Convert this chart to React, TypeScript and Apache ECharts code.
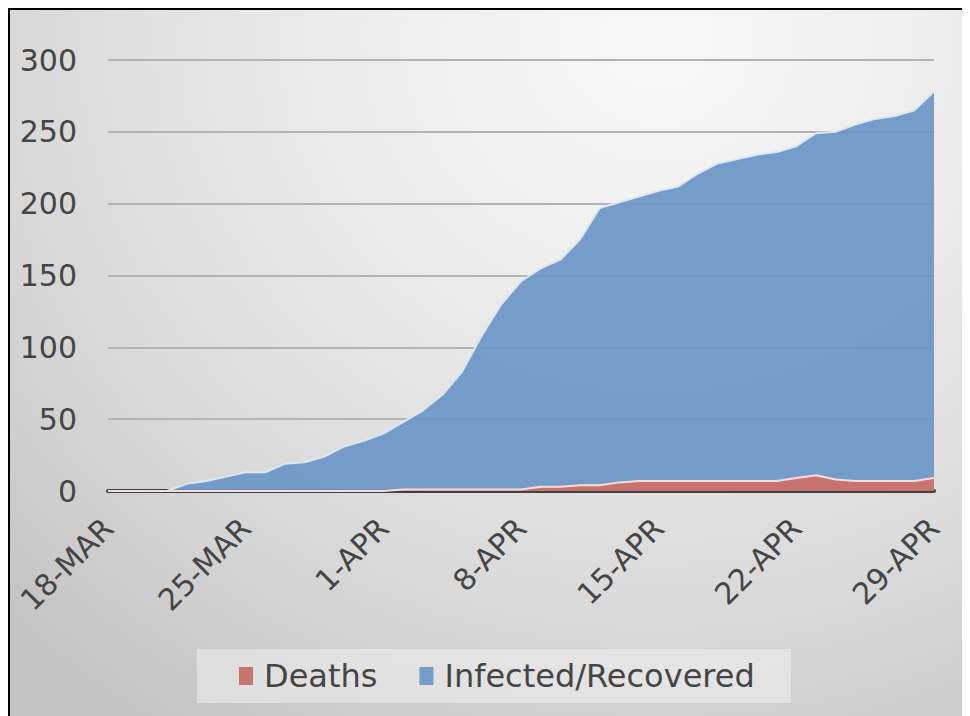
import { useEffect, useRef } from "react";
import * as echarts from "echarts";

const dates = [
  "18-MAR", "19-MAR", "20-MAR", "21-MAR", "22-MAR", "23-MAR", "24-MAR",
  "25-MAR", "26-MAR", "27-MAR", "28-MAR", "29-MAR", "30-MAR", "31-MAR",
  "1-APR", "2-APR", "3-APR", "4-APR", "5-APR", "6-APR", "7-APR",
  "8-APR", "9-APR", "10-APR", "11-APR", "12-APR", "13-APR", "14-APR",
  "15-APR", "16-APR", "17-APR", "18-APR", "19-APR", "20-APR", "21-APR",
  "22-APR", "23-APR", "24-APR", "25-APR", "26-APR", "27-APR", "28-APR",
  "29-APR",
];

const deaths = [
  0, 0, 0, 0, 0, 0, 0,
  0, 0, 0, 0, 0, 0, 0,
  0, 1, 1, 1, 1, 1, 1,
  1, 3, 3, 4, 4, 6, 7,
  7, 7, 7, 7, 7, 7, 7,
  9, 11, 8, 7, 7, 7, 7,
  9,
];

const infected = [
  0, 0, 0, 0, 5, 7, 10,
  13, 13, 19, 20, 24, 31, 35,
  40, 47, 55, 66, 82, 107, 129,
  145, 152, 158, 171, 193, 195, 198,
  202, 205, 214, 221, 224, 227, 229,
  231, 238, 242, 248, 252, 254, 258,
  269,
];

const FONT = "DejaVu Sans";
const TEXT = "#454545";

export default function App() {
  const ref = useRef<HTMLDivElement>(null);

  useEffect(() => {
    document.body.style.overflow = "hidden";
    document.documentElement.style.overflow = "hidden";
    const chart = echarts.init(ref.current!, null, { renderer: "svg" });
    chart.setOption({
      animation: false,
      backgroundColor: "transparent",
      textStyle: { fontFamily: FONT },
      grid: { left: 98, right: 28, top: 50, bottom: 235, containLabel: false },
      legend: {
        data: ["Deaths", "Infected/Recovered"],
        left: 187,
        top: 639,
        icon: "rect",
        itemWidth: 14,
        itemHeight: 18,
        itemGap: 42,
        padding: [11, 36, 11, 42],
        backgroundColor: "rgba(240,240,240,0.55)",
        textStyle: { fontFamily: FONT, fontSize: 32, color: TEXT, padding: [0, 0, 0, 6] },
      },
      xAxis: {
        type: "category",
        data: dates,
        boundaryGap: false,
        axisLine: { show: true, lineStyle: { color: "#404040", width: 4 } },
        axisTick: { show: false },
        axisLabel: {
          interval: 6,
          rotate: 45,
          fontSize: 30,
          color: TEXT,
          fontFamily: FONT,
          margin: 32,
        },
        splitLine: { show: false },
      },
      yAxis: {
        type: "value",
        min: 0,
        max: 300,
        interval: 50,
        axisLine: { show: false },
        axisTick: { show: false },
        axisLabel: { fontSize: 30, color: TEXT, fontFamily: FONT, margin: 31 },
        splitLine: { lineStyle: { color: "#b3b3b3", width: 2 } },
      },
      series: [
        {
          name: "Deaths",
          type: "line",
          stack: "total",
          data: deaths,
          symbol: "none",
          lineStyle: { color: "#f4dedd", width: 2 },
          itemStyle: { color: "#c9736e" },
          areaStyle: { color: "#c9736e", opacity: 1 },
          z: 3,
        },
        {
          name: "Infected/Recovered",
          type: "line",
          stack: "total",
          data: infected,
          symbol: "none",
          lineStyle: { color: "#dde7f3", width: 2 },
          itemStyle: { color: "#759cc9" },
          areaStyle: { color: "#6b96c7", opacity: 0.92 },
          z: 2,
        },
      ],
    });
    return () => chart.dispose();
  }, []);

  return (
    <div
      style={{
        width: 956,
        height: 720,
        border: "2px solid #000",
        boxSizing: "border-box",
        background:
          "radial-gradient(ellipse 95% 115% at 68% 4%, #f8f8f8 0%, #ececec 35%, #d9d9d9 70%, #c4c4c4 100%)",
      }}
    >
      <div ref={ref} style={{ width: 952, height: 716 }} />
    </div>
  );
}
